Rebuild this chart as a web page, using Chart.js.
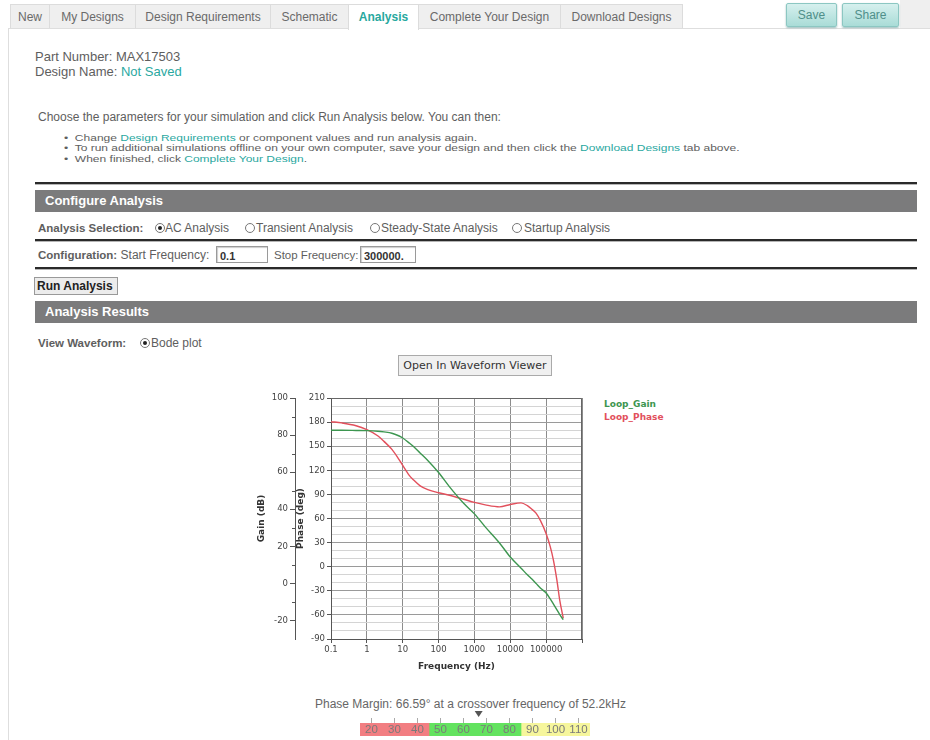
<!DOCTYPE html>
<html><head><meta charset="utf-8">
<script src="https://cdn.jsdelivr.net/npm/chart.js@4.4.0/dist/chart.umd.min.js"></script>
<style>
body{margin:0;width:930px;height:740px;position:relative;overflow:hidden;background:#fff;font-family:"Liberation Sans",Arial,sans-serif;color:#5e5e5e;}
.abs{position:absolute;white-space:nowrap;}
.tab{position:absolute;top:4px;height:24px;line-height:24px;background:#efefef;border:1px solid #dcdcdc;border-bottom:none;font-size:12px;color:#6a6a6a;text-align:center;box-sizing:border-box;}
.tab.active{background:#fff;color:#27a89e;font-weight:bold;height:26px;}
.btn{position:absolute;top:3px;height:24px;line-height:22px;box-sizing:border-box;border:1px solid #8cc7c2;border-radius:2px;background:linear-gradient(#d6f0ee,#a9dcd7);color:#4f8f8a;font-size:12px;text-align:center;box-shadow:0 1px 2px #9bb;}
.link{color:#2aa89f;}
.rule{position:absolute;left:35px;width:882px;height:3px;background:linear-gradient(#2a2a2a 0,#2a2a2a 2px,#b5b5b5 2px);}
.bar{position:absolute;left:35px;width:882px;height:22px;line-height:22px;background:#7b7b7c;color:#fff;font-weight:bold;font-size:13px;box-sizing:border-box;padding-left:10px;}
.radio{position:absolute;width:8px;height:8px;border:1px solid #777;border-radius:50%;background:#fff;}
.radio.on::after{content:"";position:absolute;left:2px;top:2px;width:4px;height:4px;border-radius:50%;background:#222;}
.inp{position:absolute;height:17px;border:1px solid #9a9a9a;box-shadow:inset 1px 1px 1px #ccc;box-sizing:border-box;font-size:11px;font-weight:bold;color:#333;line-height:18px;padding-left:3px;background:#fff;}
.row{font-size:12px;line-height:14px;}
.bul{font-size:12px;line-height:14px;transform:scaleY(0.78);transform-origin:left center;}
</style></head>
<body>
<!-- tab bar -->
<div class="abs" style="left:8px;top:28px;width:922px;height:1px;background:#dedede"></div>
<div class="abs" style="left:8px;top:28px;width:1px;height:712px;background:#dedede"></div>
<div class="abs" style="left:900px;top:0;width:30px;height:28px;background:#efefef"></div>
<div class="tab" style="left:10px;width:40px">New</div>
<div class="tab" style="left:49px;width:87px">My Designs</div>
<div class="tab" style="left:135px;width:136px">Design Requirements</div>
<div class="tab" style="left:270px;width:79px">Schematic</div>
<div class="tab active" style="left:348px;width:71px">Analysis</div>
<div class="tab" style="left:418px;width:143px">Complete Your Design</div>
<div class="tab" style="left:560px;width:123px">Download Designs</div>
<div class="btn" style="left:786px;width:51px">Save</div>
<div class="btn" style="left:842px;width:57px">Share</div>

<div class="abs" style="left:35px;top:49px;font-size:13px;line-height:16px">Part Number: MAX17503</div>
<div class="abs" style="left:35px;top:64px;font-size:13px;line-height:16px">Design Name: <span class="link">Not Saved</span></div>

<div class="abs row" style="left:38px;top:110px">Choose the parameters for your simulation and click Run Analysis below. You can then:</div>
<div class="abs bul" style="left:64px;top:130.5px">•&nbsp; Change <span class="link">Design Requirements</span> or component values and run analysis again.</div>
<div class="abs bul" style="left:64px;top:141px">•&nbsp; To run additional simulations offline on your own computer, save your design and then click the <span class="link">Download Designs</span> tab above.</div>
<div class="abs bul" style="left:64px;top:151.5px">•&nbsp; When finished, click <span class="link">Complete Your Design</span>.</div>

<div class="rule" style="top:182px"></div>
<div class="bar" style="top:190px">Configure Analysis</div>
<div class="abs row" style="left:38px;top:221px;font-weight:bold;font-size:11.5px">Analysis Selection:</div>
<span class="radio on" style="left:155px;top:223px"></span><div class="abs row" style="left:165px;top:221px">AC Analysis</div>
<span class="radio" style="left:245px;top:223px"></span><div class="abs row" style="left:256px;top:221px">Transient Analysis</div>
<span class="radio" style="left:370px;top:223px"></span><div class="abs row" style="left:381px;top:221px">Steady-State Analysis</div>
<span class="radio" style="left:512px;top:223px"></span><div class="abs row" style="left:524px;top:221px">Startup Analysis</div>
<div class="rule" style="top:239px"></div>
<div class="abs row" style="left:38px;top:248px"><b style="font-size:11.5px">Configuration:</b> Start Frequency:</div>
<div class="inp" style="left:216px;top:246px;width:52px">0.1</div>
<div class="abs row" style="left:274px;top:248px;font-size:11.5px">Stop Frequency:</div>
<div class="inp" style="left:360px;top:246px;width:56px">300000.</div>
<div class="rule" style="top:267px"></div>
<div class="abs" style="left:34px;top:277px;width:84px;height:18px;box-sizing:border-box;border:1px solid #999;background:#ececec;font-size:12px;font-weight:bold;color:#222;line-height:16px;padding-left:2px">Run Analysis</div>
<div class="bar" style="top:301px">Analysis Results</div>
<div class="abs row" style="left:38px;top:336px;font-weight:bold;font-size:11.5px">View Waveform:</div>
<span class="radio on" style="left:140px;top:338px"></span><div class="abs row" style="left:151px;top:336px">Bode plot</div>
<div class="abs" style="left:398px;top:355px;width:154px;height:21px;box-sizing:border-box;border:1px solid #aaa;background:#f0f0f0;font-family:'DejaVu Sans',Verdana,sans-serif;font-size:11px;color:#333;text-align:center;line-height:19px">Open In Waveform Viewer</div>

<canvas id="bode" width="335" height="285" style="position:absolute;left:255px;top:390px"></canvas>
<div id="legend" class="abs" style="left:604px;top:398px;font-family:'DejaVu Sans',Verdana,sans-serif;font-weight:bold;font-size:9px;line-height:13px"></div>

<div id="pmText" class="abs row" style="left:315px;top:697px;color:#666"></div>
<canvas id="gauge" width="260" height="40" style="position:absolute;left:340px;top:700px"></canvas>

<script>
// ---- data ----
const freqHz       = [0.1, 0.2, 0.5, 1, 2, 3, 5, 8, 10, 15, 20, 30, 50, 100, 200, 500, 1000, 2000, 5000, 10000, 20000, 30000, 40000, 52200, 70000, 100000, 130000, 160000, 200000, 240000, 300000];
const loopGainDb   = [82.6, 82.6, 82.5, 82.4, 82.1, 81.7, 81, 79.5, 78.4, 75.8, 73.8, 70.5, 66.3, 59.8, 52.2, 43.2, 37.5, 30.5, 21.8, 14.2, 8.2, 4.6, 2.3, 0, -2.6, -5.2, -8.4, -11.2, -14.3, -16.8, -19.6];
const loopPhaseDeg = [180.5, 179, 175.5, 170.5, 163, 156, 146, 133, 126, 114, 108, 101, 96, 92, 89, 84, 80, 77, 74.5, 77.5, 79.5, 76, 71.5, 66.6, 57, 41, 25, 8, -17, -42, -64];
const seriesNames  = ['Loop_Gain', 'Loop_Phase'];
const freqTicks      = [0.1, 1, 10, 100, 1000, 10000, 100000, 1000000];
const freqTickLabels = ['0.1', '1', '10', '100', '1000', '10000', '100000', ''];
const gainTicks  = [-30, -20, -10, 0, 10, 20, 30, 40, 50, 60, 70, 80, 90, 100];
const phaseTicks = [-90, -80, -70, -60, -50, -40, -30, -20, -10, 0, 10, 20, 30, 40, 50, 60, 70, 80, 90, 100, 110, 120, 130, 140, 150, 160, 170, 180, 190, 200, 210];
const phaseMarginDeg = 66.59;
const crossoverKHz   = 52.2;
const gaugeTicks = [20, 30, 40, 50, 60, 70, 80, 90, 100, 110];
const gaugeBands = [[15, 45], [45, 85], [85, 115]];

// ---- styles ----
const gainColor = '#3d9650', phaseColor = '#e2505c';
const gaugeColors = ['#f27e82', '#63e35f', '#f6f69c'];
const tickFont = {family: "'DejaVu Sans', Verdana, sans-serif", size: 8.5};
const titleFont = {family: "'DejaVu Sans', Verdana, sans-serif", size: 9, weight: 'bold'};

document.getElementById('legend').innerHTML =
  '<div style="color:' + gainColor + '">' + seriesNames[0] + '</div>' +
  '<div style="color:' + phaseColor + '">' + seriesNames[1] + '</div>';
document.getElementById('pmText').textContent =
  'Phase Margin: ' + phaseMarginDeg + '\u00b0 at a crossover frequency of ' + crossoverKHz + 'kHz';

const bodeDecor = {
  id: 'bodeDecor',
  afterDraw(chart) {
    const {ctx, chartArea: a, scales} = chart;
    ctx.save();
    ctx.strokeStyle = '#666'; ctx.lineWidth = 1;
    ctx.beginPath();
    ctx.moveTo(a.left, a.top + 0.5); ctx.lineTo(a.right - 0.5, a.top + 0.5); ctx.lineTo(a.right - 0.5, a.bottom);
    ctx.stroke();
    const g = scales.yGain;
    ctx.strokeStyle = '#555';
    gainTicks.forEach(v => {
      if (v % 20 !== 0 && v > g.min) {
        const y = Math.round(g.getPixelForValue(v)) + 0.5;
        ctx.beginPath(); ctx.moveTo(g.right - 3, y); ctx.lineTo(g.right, y); ctx.stroke();
      }
    });
    ctx.restore();
  }
};

new Chart(document.getElementById('bode'), {
  type: 'line',
  data: {
    datasets: [
      {label: seriesNames[0], data: freqHz.map((f, i) => ({x: f, y: loopGainDb[i]})), yAxisID: 'yGain',
       borderColor: gainColor, borderWidth: 1.4, pointRadius: 0, cubicInterpolationMode: 'monotone', fill: false},
      {label: seriesNames[1], data: freqHz.map((f, i) => ({x: f, y: loopPhaseDeg[i]})), yAxisID: 'yPhase',
       borderColor: phaseColor, borderWidth: 1.4, pointRadius: 0, cubicInterpolationMode: 'monotone', fill: false}
    ]
  },
  options: {
    responsive: false, animation: false,
    layout: {padding: {top: 8, right: 8, left: 0, bottom: 0}},
    plugins: {legend: {display: false}, tooltip: {enabled: false}},
    scales: {
      x: {
        type: 'logarithmic', min: 0.1, max: 1000000,
        afterBuildTicks: s => { s.ticks = freqTicks.map(v => ({value: v})); },
        afterFit: s => { s.height = 36; },
        ticks: {font: tickFont, color: '#444', maxRotation: 0, autoSkip: false, padding: 2,
                callback: (v, i) => freqTickLabels[i]},
        grid: {color: '#8c8c8c', tickLength: 4, tickColor: '#555'},
        border: {color: '#555'},
        title: {display: true, text: 'Frequency (Hz)', font: titleFont, color: '#333', padding: {top: 0, bottom: 3}}
      },
      yPhase: {
        position: 'left', weight: 0, min: -90, max: 210,
        afterBuildTicks: s => { s.ticks = phaseTicks.map(v => ({value: v})); },
        afterFit: s => { s.width = 36; },
        ticks: {font: tickFont, color: '#444', autoSkip: false, padding: 2,
                callback: v => (v % 30 === 0 ? String(v) : '')},
        grid: {color: c => (c.tick && c.tick.value % 30 === 0 ? '#9a9a9a' : '#d4d4d4'),
               tickColor: c => (c.tick && c.tick.value % 30 === 0 ? '#555' : 'rgba(0,0,0,0)'), tickLength: 4},
        border: {color: '#555'},
        title: {display: true, text: 'Phase (deg)', font: titleFont, color: '#333', padding: {top: 0, bottom: 0}}
      },
      yGain: {
        position: 'left', weight: 1, min: -30, max: 100,
        afterBuildTicks: s => { s.ticks = gainTicks.map(v => ({value: v})); },
        afterFit: s => { s.width = 40; },
        ticks: {font: tickFont, color: '#444', autoSkip: false, padding: 2,
                callback: v => (v % 20 === 0 ? String(v) : '')},
        grid: {drawOnChartArea: false, tickLength: 5,
               tickColor: c => (c.tick && c.tick.value % 20 === 0 ? '#555' : 'rgba(0,0,0,0)')},
        border: {color: '#555'},
        title: {display: true, text: 'Gain (dB)', font: titleFont, color: '#333', padding: {top: 1, bottom: 0}}
      }
    }
  },
  plugins: [bodeDecor]
});

const gaugeDecor = {
  id: 'gaugeDecor',
  afterDatasetsDraw(chart) {
    const {ctx, chartArea: a, scales} = chart;
    const x = scales.x;
    ctx.save();
    ctx.font = "11.5px 'Liberation Sans', Arial, sans-serif";
    ctx.fillStyle = '#7a7a7a'; ctx.textAlign = 'center'; ctx.textBaseline = 'middle';
    gaugeTicks.forEach(v => ctx.fillText(String(v), x.getPixelForValue(v), (a.top + a.bottom) / 2 + 0.5));
    const px = x.getPixelForValue(phaseMarginDeg);
    ctx.fillStyle = '#555';
    ctx.beginPath(); ctx.moveTo(px - 4, a.top - 12); ctx.lineTo(px + 4, a.top - 12); ctx.lineTo(px, a.top - 6); ctx.closePath(); ctx.fill();
    ctx.restore();
  }
};

new Chart(document.getElementById('gauge'), {
  type: 'bar',
  data: {labels: ['PM'], datasets: gaugeBands.map((b, i) => ({data: [b], backgroundColor: gaugeColors[i], borderWidth: 0,
        barPercentage: 1, categoryPercentage: 1, grouped: false}))},
  options: {
    indexAxis: 'y', responsive: false, animation: false,
    layout: {padding: {left: 20, right: 10, top: 18, bottom: 4}},
    plugins: {legend: {display: false}, tooltip: {enabled: false}},
    scales: {
      x: {type: 'linear', position: 'top', min: 15, max: 115,
          afterBuildTicks: s => { s.ticks = gaugeTicks.map(v => ({value: v})); },
          afterFit: s => { s.height = 5; },
          ticks: {display: false},
          grid: {drawOnChartArea: false, tickLength: 5, tickColor: '#aaa'},
          border: {display: false}},
      y: {display: false}
    }
  },
  plugins: [gaugeDecor]
});
</script>
</body></html>
